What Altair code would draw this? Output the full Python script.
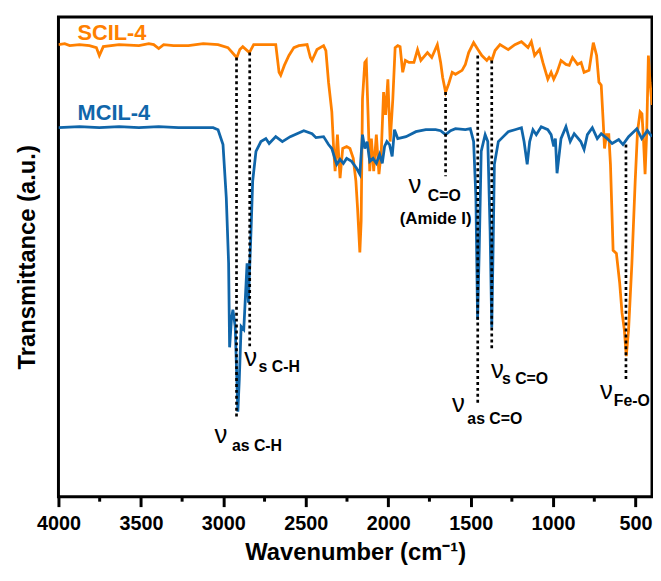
import altair as alt
import pandas as pd

# ---------------- data ----------------
blue_wn = [4000, 3872, 3752, 3632, 3512, 3392, 3272, 3152, 3062, 3032, 3002, 2982, 2968, 2962,
           2951, 2942, 2928, 2912, 2903, 2892, 2876, 2856, 2848, 2832, 2822, 2802, 2772, 2742,
           2722, 2682, 2642, 2594, 2512, 2462, 2438, 2392, 2362, 2342, 2322, 2312, 2292, 2272,
           2252, 2222, 2192, 2172, 2156, 2142, 2128, 2112, 2092, 2072, 2052, 2036, 2022, 2008,
           1992, 1976, 1962, 1942, 1892, 1832, 1772, 1712, 1682, 1652, 1622, 1592, 1532, 1502,
           1482, 1468, 1458, 1448, 1436, 1412, 1396, 1382, 1372, 1364, 1356, 1332, 1302, 1272,
           1232, 1192, 1176, 1157, 1142, 1122, 1102, 1072, 1032, 1012, 996, 986, 976, 952, 922,
           896, 872, 832, 812, 792, 762, 732, 708, 672, 642, 602, 576, 542, 492, 462, 428, 400]
blue_t = [373, 374, 373, 374, 373, 374, 373, 373, 373, 371, 356, 302, 236, 151,
          179, 189, 172, 86, 119, 172, 169, 236, 196, 269, 319, 349, 359, 362,
          357, 364, 359, 364, 370, 367, 363, 364, 356, 352, 341, 336, 341, 337,
          342, 339, 332, 326, 366, 352, 359, 339, 342, 337, 346, 337, 354, 359,
          356, 344, 371, 362, 364, 369, 371, 371, 370, 366, 370, 372, 371, 372,
          359, 302, 179, 249, 349, 366, 359, 269, 171, 249, 336, 359, 364, 369,
          371, 373, 359, 336, 359, 371, 366, 374, 371, 366, 354, 362, 327, 362, 374,
          359, 367, 359, 351, 366, 373, 362, 367, 362, 357, 361, 356, 364, 372, 362, 370, 364]

orange_wn = [4000, 3962, 3932, 3872, 3812, 3770, 3752, 3728, 3632, 3512, 3452, 3422, 3392, 3362,
             3302, 3212, 3122, 3032, 2972, 2930, 2918, 2900, 2882, 2842, 2816, 2762, 2682, 2662,
             2652, 2630, 2602, 2572, 2542, 2492, 2472, 2462, 2432, 2392, 2378, 2362, 2342, 2330,
             2322, 2308, 2292, 2276, 2252, 2232, 2212, 2196, 2186, 2172, 2164, 2156, 2142, 2133,
             2122, 2112, 2102, 2088, 2072, 2056, 2042, 2028, 2016, 2002, 1988, 1972, 1958, 1942,
             1928, 1912, 1896, 1874, 1844, 1822, 1802, 1762, 1736, 1702, 1682, 1670, 1652, 1634,
             1612, 1592, 1552, 1532, 1512, 1482, 1456, 1432, 1402, 1388, 1372, 1352, 1322, 1272,
             1232, 1192, 1152, 1132, 1112, 1082, 1062, 1032, 1012, 996, 976, 952, 922, 902, 882,
             852, 830, 812, 782, 756, 736, 722, 708, 696, 688, 676, 662, 652, 636, 616, 596, 582,
             568, 556, 542, 522, 502, 488, 472, 461, 452, 442, 432, 422, 412, 400]
orange_t = [457, 458, 456, 457, 456, 454, 446, 455, 457, 456, 458, 457, 453, 457,
            456, 456, 458, 457, 454, 446, 444, 452, 455, 449, 457, 457, 457, 429,
            426, 436, 446, 454, 456, 457, 444, 441, 452, 456, 451, 419, 389, 349,
            329, 366, 322, 352, 354, 352, 342, 319, 292, 247, 279, 402, 439, 441,
            386, 329, 362, 329, 366, 326, 349, 409, 386, 422, 359, 402, 454, 456,
            455, 429, 441, 439, 439, 452, 441, 449, 444, 457, 439, 424, 409, 417,
            429, 427, 431, 437, 449, 459, 452, 446, 441, 444, 441, 451, 457, 452,
            457, 460, 454, 460, 446, 452, 439, 422, 429, 422, 429, 441, 437, 436, 444,
            437, 439, 429, 431, 459, 446, 419, 416, 379, 352, 366, 366, 336, 249, 246, 216, 186,
            169, 142, 169, 236, 319, 369, 389, 387, 362, 326, 369, 446, 419, 396]

series_names = ["SCIL-4", "MCIL-4"]
series_colors = ["#FF8000", "#1066AA"]
series_label_wn = [3884, 3884]
series_label_t = [462, 381]

# dotted assignment lines
peak_wn = [2920, 2840, 1652, 1457, 1372, 558]
peak_top = [444, 449, 409, 446, 441, 356]
peak_bottom = [81, 151, 324, 93, 147, 117]

# annotation labels: nu symbol + subscript
nu_wn = [3014, 2834, 1838, 1574, 1337, 677]
nu_t = [54, 132, 307, 86, 120, 99]
sub_text = ["as C-H", "s C-H", "C=O", "as C=O", "s C=O", "Fe-O"]
sub_wn = [2948, 2786, 1760, 1520, 1310, 632]
sub_t = [46, 126, 299, 74, 114, 92]
note_text = ["(Amide I)"]
note_wn = [1712]
note_t = [276]

major_ticks = [4000, 3500, 3000, 2500, 2000, 1500, 1000, 500]
minor_ticks = [3750, 3250, 2750, 2250, 1750, 1250, 750]

# ---------------- tables ----------------
spec = pd.concat([
    pd.DataFrame({"wn": orange_wn, "t": orange_t, "series": "SCIL-4"}),
    pd.DataFrame({"wn": blue_wn, "t": blue_t, "series": "MCIL-4"}),
])
labels_df = pd.DataFrame({"wn": series_label_wn, "t": series_label_t, "series": series_names})
peaks_df = pd.DataFrame({"wn": peak_wn, "top": peak_top, "bottom": peak_bottom})
nu_df = pd.DataFrame({"wn": nu_wn, "t": nu_t, "txt": ["ν"] * len(nu_wn)})
sub_df = pd.DataFrame({"wn": sub_wn, "t": sub_t, "txt": sub_text})
note_df = pd.DataFrame({"wn": note_wn, "t": note_t, "txt": note_text})
minor_df = pd.DataFrame({"wn": minor_ticks})

W, H = 600, 485
FONT = "Liberation Sans"

xscale = alt.Scale(domain=[400, 4000], reverse=True, nice=False, zero=False)
yscale = alt.Scale(domain=[0, 485], nice=False, zero=False)
cscale = alt.Scale(domain=series_names, range=series_colors)

xaxis = alt.Axis(values=major_ticks, title="Wavenumber (cm⁻¹)", format="d",
                 labelFont=FONT, labelFontSize=20, labelFontWeight="bold", labelColor="black",
                 labelPadding=7, labelFlush=False, labelOverlap=False,
                 tickSize=10, tickWidth=3, tickColor="black", domain=False, grid=False,
                 titleFont=FONT, titleFontSize=24, titleFontWeight="bold", titleColor="black",
                 titlePadding=7)
yaxis = alt.Axis(title="Transmittance (a.u.)", labels=False, ticks=False, domain=False, grid=False,
                 titleFont=FONT, titleFontSize=24, titleFontWeight="bold", titleColor="black",
                 titlePadding=19)

lines = alt.Chart(spec).mark_line(strokeWidth=2.8, clip=True).encode(
    x=alt.X("wn:Q", scale=xscale, axis=xaxis),
    y=alt.Y("t:Q", scale=yscale, axis=yaxis),
    color=alt.Color("series:N", scale=cscale, legend=None),
    detail="series:N",
)

rules = alt.Chart(peaks_df).mark_rule(color="black", strokeWidth=2.7, strokeDash=[3, 3]).encode(
    x="wn:Q", y="top:Q", y2="bottom:Q")

minor = alt.Chart(minor_df).mark_rule(color="black", strokeWidth=3).encode(
    x="wn:Q", y=alt.value(H), y2=alt.value(H + 5))

series_text = alt.Chart(labels_df).mark_text(
    font=FONT, fontSize=22, fontWeight="bold", align="left", baseline="alphabetic").encode(
    x="wn:Q", y="t:Q", text="series:N",
    color=alt.Color("series:N", scale=cscale, legend=None))

nu_text = alt.Chart(nu_df).mark_text(
    font=FONT, fontSize=26, align="center", baseline="alphabetic", color="black").encode(
    x="wn:Q", y="t:Q", text="txt:N")

sub_label = alt.Chart(sub_df).mark_text(
    font=FONT, fontSize=16, fontWeight="bold", align="left", baseline="alphabetic", color="black").encode(
    x="wn:Q", y="t:Q", text="txt:N")

note_label = alt.Chart(note_df).mark_text(
    font=FONT, fontSize=17, fontWeight="bold", align="center", baseline="alphabetic", color="black").encode(
    x="wn:Q", y="t:Q", text="txt:N")

chart = alt.layer(lines, rules, minor, series_text, nu_text, sub_label, note_label).properties(
    width=W, height=H,
    autosize=alt.AutoSizeParams(type="none"),
    padding={"left": 51, "top": 6, "right": 1, "bottom": 66},
).configure_view(stroke="black", strokeWidth=3)

chart.save("out.html", embed_options={"renderer": "svg", "actions": False})
